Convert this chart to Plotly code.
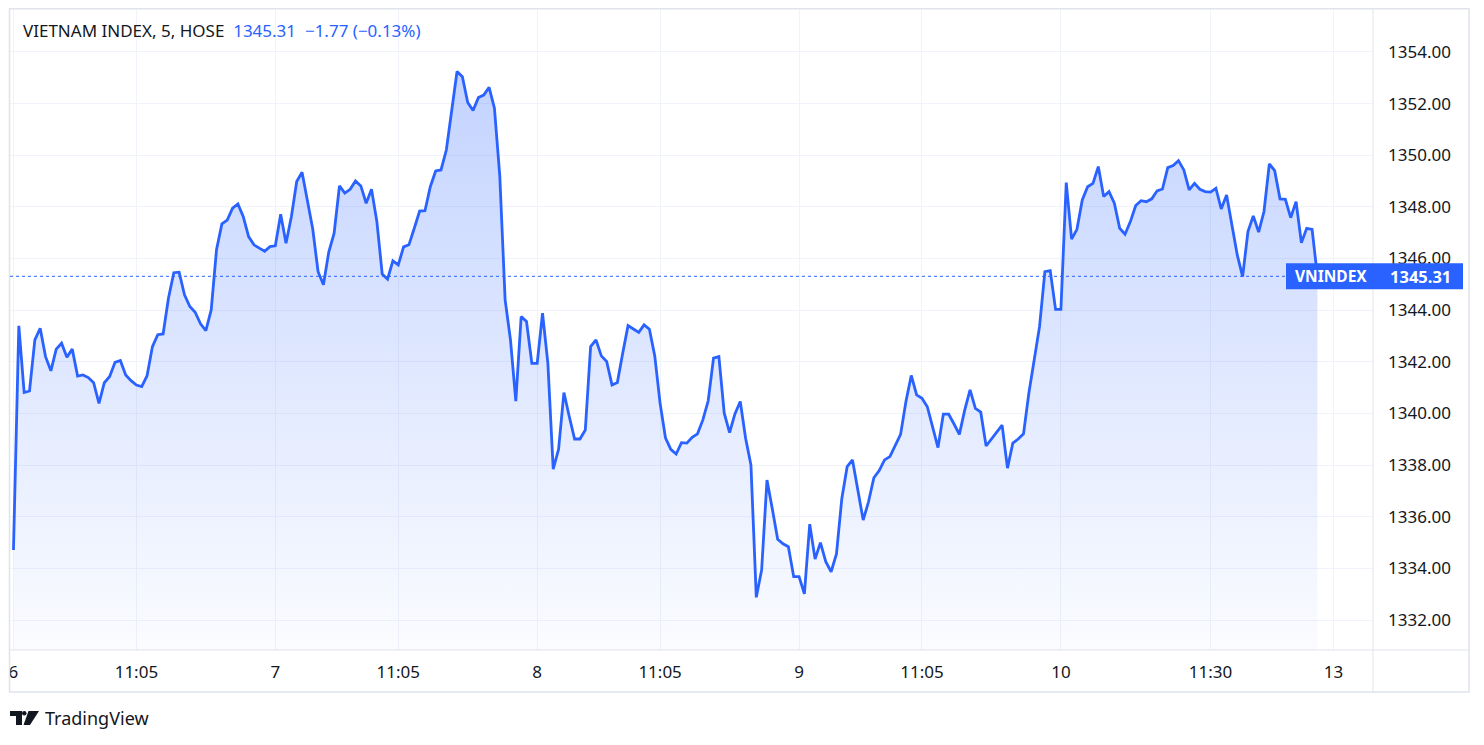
import plotly.graph_objects as go

# ---------------- data (5-minute closes) ----------------
day6 = [1334.71, 1343.39, 1340.81, 1340.87, 1342.85, 1343.30, 1342.20, 1341.65, 1342.49, 1342.72,
        1342.18, 1342.49, 1341.45, 1341.49, 1341.39, 1341.19, 1340.39, 1341.19, 1341.43, 1341.98,
        1342.05, 1341.49, 1341.27, 1341.10, 1341.04, 1341.46, 1342.59, 1343.05, 1343.08, 1344.46,
        1345.45, 1345.47, 1344.59, 1344.14, 1343.92, 1343.47, 1343.21, 1344.01, 1346.35, 1347.34,
        1347.49, 1347.95, 1348.11, 1347.62, 1346.85, 1346.53, 1346.40, 1346.28, 1346.46]
day7 = [1346.49, 1347.71, 1346.59, 1347.62, 1348.98, 1349.34, 1348.27, 1347.14, 1345.49, 1344.98,
        1346.25, 1346.98, 1348.81, 1348.53, 1348.68, 1349.00, 1348.81, 1348.14, 1348.68, 1347.43,
        1345.40, 1345.20, 1345.91, 1345.75, 1346.45, 1346.53, 1347.17, 1347.84, 1347.85, 1348.78,
        1349.39, 1349.43, 1350.20, 1351.63, 1353.24, 1353.04, 1352.04, 1351.73, 1352.23, 1352.33,
        1352.63, 1351.82, 1349.20, 1344.40, 1342.85, 1340.48, 1343.75, 1343.56, 1341.94]
day8 = [1341.94, 1343.88, 1341.94, 1337.84, 1338.61, 1340.81, 1339.88, 1339.01, 1339.01, 1339.36,
        1342.59, 1342.85, 1342.23, 1342.01, 1341.10, 1341.20, 1342.33, 1343.40, 1343.27, 1343.14,
        1343.43, 1343.26, 1342.23, 1340.39, 1339.06, 1338.61, 1338.43, 1338.87, 1338.85, 1339.08,
        1339.21, 1339.75, 1340.49, 1342.14, 1342.20, 1340.01, 1339.26, 1339.98, 1340.46, 1339.04,
        1338.00, 1332.88, 1333.94, 1337.42, 1336.30, 1335.13, 1334.95, 1334.84, 1333.68]
day9 = [1333.68, 1333.01, 1335.71, 1334.36, 1335.00, 1334.26, 1333.87, 1334.56, 1336.70, 1337.94,
        1338.20, 1337.04, 1335.87, 1336.58, 1337.51, 1337.79, 1338.20, 1338.33, 1338.75, 1339.19,
        1340.46, 1341.47, 1340.72, 1340.59, 1340.26, 1339.49, 1338.68, 1339.97, 1339.97, 1339.59,
        1339.19, 1340.13, 1340.91, 1340.20, 1340.05, 1338.74, 1339.01, 1339.25, 1339.55, 1337.88,
        1338.85, 1339.01, 1339.21, 1340.78, 1342.07, 1343.36, 1345.49, 1345.53, 1344.03]
day10 = [1344.03, 1348.94, 1346.75, 1347.13, 1348.27, 1348.78, 1348.91, 1349.56, 1348.40, 1348.59,
         1348.14, 1347.17, 1346.94, 1347.43, 1348.05, 1348.24, 1348.20, 1348.31, 1348.62, 1348.69,
         1349.52, 1349.60, 1349.79, 1349.43, 1348.66, 1348.91, 1348.68, 1348.59, 1348.57, 1348.72,
         1347.92, 1348.46, 1347.23, 1346.14, 1345.30, 1347.04, 1347.65, 1347.02, 1347.82, 1349.66,
         1349.40, 1348.31, 1348.29, 1347.58, 1348.20, 1346.61, 1347.17, 1347.13, 1345.31]

values = day6 + day7 + day8 + day9 + day10
bars = list(range(len(values)))

time_tick_pos = [0, 23, 49, 72, 98, 121, 147, 170, 196, 224, 247]
time_tick_text = ["6", "11:05", "7", "11:05", "8", "11:05", "9", "11:05", "10", "11:30", "13"]
price_ticks = [1332, 1334, 1336, 1338, 1340, 1342, 1344, 1346, 1348, 1350, 1352, 1354]

symbol_title = "VIETNAM INDEX, 5, HOSE"
ticker = "VNINDEX"
change_abs = -1.77
change_pct = -0.13

# ---------------- styling / layout ----------------
BLUE = "#2962FF"
TEXT = "#131722"
GRID = "#f0f3fa"
BORDER = "#e0e3eb"
FONT = "Noto Sans"

OFF = 8                      # page body margin in the browser
W, H = 1484 - 2 * OFF, 745 - 2 * OFF
# plot area, in window pixels
L, R, T, B = 10, 1373, 8, 650
x_range = [-0.65, 254.4]
y_range = [1330.84, 1355.70]


def px(xp):
    return (xp - L) / (R - L)


def py(yp):
    return (B - yp) / (B - T)


last = values[-1]
last_paper_y = (last - y_range[0]) / (y_range[1] - y_range[0])

fig = go.Figure()
fig.add_trace(go.Scatter(
    x=bars, y=values, mode="lines",
    line=dict(color=BLUE, width=2.8),
    fill="tozeroy",
    fillgradient=dict(type="vertical",
                      colorscale=[[0, "rgba(41,98,255,0.02)"], [1, "rgba(41,98,255,0.28)"]],
                      start=y_range[0], stop=max(values)),
    hoverinfo="skip", showlegend=False,
))

shapes = [
    # outer frame
    dict(type="rect", xref="paper", yref="paper", x0=px(9.5), x1=px(1469), y0=py(8.7), y1=py(692),
         line=dict(color=BORDER, width=1.5), layer="above"),
    # price-scale separator
    dict(type="line", xref="paper", yref="paper", x0=1, x1=1, y0=py(8.7), y1=py(692),
         line=dict(color=BORDER, width=1), layer="above"),
    # time-scale separator
    dict(type="line", xref="paper", yref="paper", x0=px(9.5), x1=px(1469), y0=0, y1=0,
         line=dict(color=BORDER, width=1), layer="above"),
    # last-price dotted line
    dict(type="line", xref="paper", yref="y", x0=0, x1=1, y0=last, y1=last,
         line=dict(color=BLUE, width=1, dash="dot"), layer="above"),
    # last-price label box
    dict(type="rect", xref="paper", yref="paper", xsizemode="pixel", ysizemode="pixel",
         xanchor=1, yanchor=last_paper_y, x0=1286 - R, x1=1463 - R, y0=-13, y1=13,
         fillcolor=BLUE, line=dict(width=0), layer="above"),
    # TradingView logo
    dict(type="path", xref="paper", yref="paper",
         path=f"M {px(10)},{py(711)} L {px(22)},{py(711)} L {px(22)},{py(725)} L {px(16)},{py(725)} "
              f"L {px(16)},{py(716)} L {px(10)},{py(716)} Z",
         fillcolor=TEXT, line=dict(width=0)),
    dict(type="circle", xref="paper", yref="paper", x0=px(22), x1=px(26.5), y0=py(711), y1=py(715.5),
         fillcolor=TEXT, line=dict(width=0)),
    dict(type="path", xref="paper", yref="paper",
         path=f"M {px(28.5)},{py(711)} L {px(39)},{py(711)} L {px(30)},{py(725)} L {px(23.5)},{py(725)} Z",
         fillcolor=TEXT, line=dict(width=0)),
]

annotations = [
    dict(xref="paper", yref="paper", x=px(21), y=py(31), xanchor="left", yanchor="middle",
         showarrow=False, font=dict(family=FONT, size=17, color=TEXT),
         text=(f"{symbol_title}&nbsp;&nbsp;<span style='color:{BLUE}'>{last:.2f}&nbsp;&nbsp;"
               f"\u2212{abs(change_abs):.2f} (\u2212{abs(change_pct):.2f}%)</span>")),
    dict(xref="paper", yref="paper", x=px(1293), y=last_paper_y, xanchor="left", yanchor="middle",
         showarrow=False, font=dict(family=FONT, size=15.5, color="white"), text=f"<b>{ticker}</b>"),
    dict(xref="paper", yref="paper", x=px(1453), y=last_paper_y, xanchor="right", yanchor="middle",
         showarrow=False, font=dict(family=FONT, size=16.5, color="white"), text=f"<b>{last:.2f}</b>"),
    dict(xref="paper", yref="paper", x=px(43), y=py(718), xanchor="left", yanchor="middle",
         showarrow=False, font=dict(family=FONT, size=18, color=TEXT), text="TradingView"),
]

fig.update_layout(
    width=W, height=H, autosize=False,
    margin=dict(l=L - OFF, r=(OFF + W) - R, t=T - OFF, b=(OFF + H) - B, pad=0),
    paper_bgcolor="white", plot_bgcolor="white",
    font=dict(family=FONT, size=16, color=TEXT),
    shapes=shapes, annotations=annotations,
    xaxis=dict(range=x_range, tickmode="array", tickvals=time_tick_pos, ticktext=time_tick_text,
               showgrid=True, gridcolor=GRID, gridwidth=1, zeroline=False, showline=False,
               ticks="", ticklabelstandoff=10, tickfont=dict(family=FONT, size=17, color=TEXT),
               fixedrange=True),
    yaxis=dict(range=y_range, side="right", tickmode="array", tickvals=price_ticks, tickformat=".2f",
               showgrid=True, gridcolor=GRID, gridwidth=1, zeroline=False, showline=False,
               ticks="", ticklabelstandoff=14, tickfont=dict(family=FONT, size=17, color=TEXT),
               fixedrange=True),
    hovermode=False,
)

fig.write_html("out.html")
